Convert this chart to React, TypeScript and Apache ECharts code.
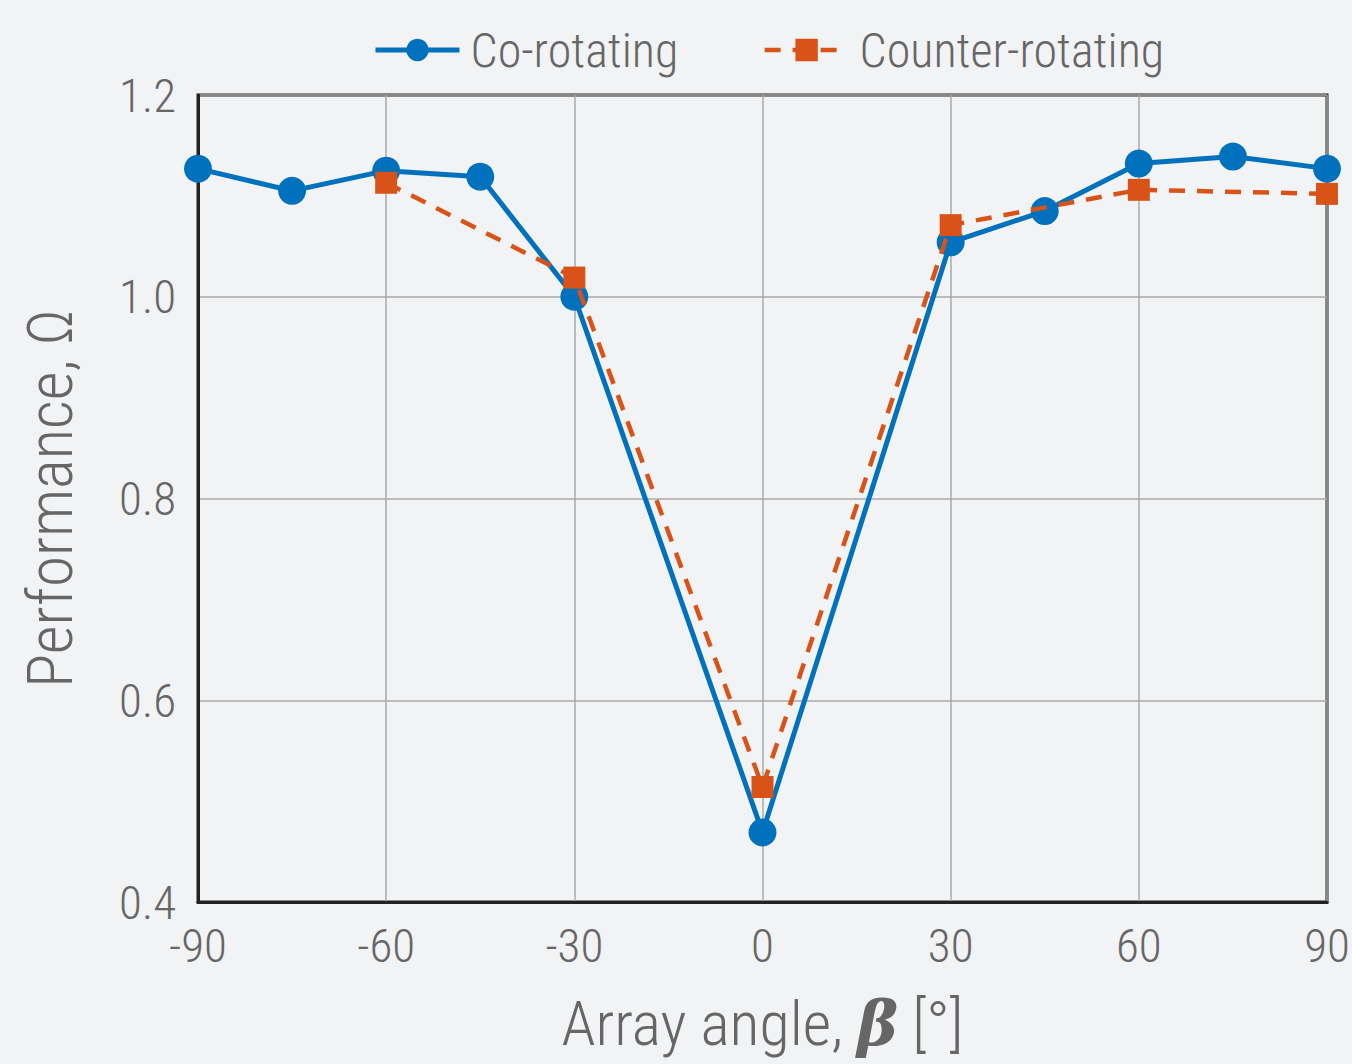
import React, { useEffect, useRef } from "react";
import * as echarts from "echarts";

const coAngles = [-90, -75, -60, -45, -30, 0, 30, 45, 60, 75, 90];
const coValues = [1.127, 1.105, 1.125, 1.119, 1.0, 0.469, 1.054, 1.085, 1.132, 1.139, 1.127];
const counterAngles = [-60, -30, 0, 30, 60, 90];
const counterValues = [1.113, 1.019, 0.514, 1.071, 1.106, 1.102];
const xTicks = [-90, -60, -30, 0, 30, 60, 90];
const yTicks = [0.4, 0.6, 0.8, 1.0, 1.2];

const FONT = "'Roboto Condensed', 'Liberation Sans Narrow', 'DejaVu Sans Condensed', sans-serif";
const TEXT = "#666666";
const BLUE = "#0072BD";
const ORANGE = "#D95319";

export default function App() {
  const ref = useRef<HTMLDivElement>(null);
  useEffect(() => {
    document.body.style.margin = "0";
    document.body.style.background = "#f2f3f5";
    const chart = echarts.init(ref.current!, null, { renderer: "svg" });
    chart.setOption({
      animation: false,
      backgroundColor: "#f2f3f5",
      textStyle: { fontFamily: FONT, fontWeight: 300 },
      legend: {
        top: 21,
        left: 368,
        itemWidth: 84,
        itemHeight: 28,
        itemGap: 84,
        textStyle: { fontSize: 48, color: TEXT, fontFamily: FONT, fontWeight: 300, padding: [0, 0, 0, 6] },
        data: [
          { name: "Co-rotating", lineStyle: { width: 5, color: BLUE }, itemStyle: { color: BLUE } },
          { name: "Counter-rotating", lineStyle: { width: 4.5, color: ORANGE, type: [16, 12] }, itemStyle: { color: ORANGE } },
        ],
      },
      grid: {
        left: 198,
        top: 95,
        right: 25,
        bottom: 162,
        outerBoundsMode: "none",
        containLabel: false,
        show: true,
        borderColor: "#222",
        borderWidth: 3,
        backgroundColor: "transparent",
      },
      xAxis: {
        type: "value",
        min: -90,
        max: 90,
        interval: 30,
        name: "{n|Array angle, }{b|β}{n| [°]}",
        nameLocation: "middle",
        nameGap: 90,
        nameTextStyle: {
          rich: {
            n: { fontSize: 62, color: TEXT, fontFamily: FONT, fontWeight: 300 },
            b: { fontSize: 62, color: TEXT, fontWeight: "bold", fontStyle: "italic", fontFamily: "'DejaVu Serif', serif" },
          },
        },
        axisLine: { show: true, onZero: false, lineStyle: { color: "#222", width: 3 } },
        axisTick: { show: false },
        axisLabel: {
          fontSize: 47,
          color: TEXT,
          margin: 20,
          fontFamily: FONT,
          fontWeight: 300,
          formatter: (v: number) => (xTicks.includes(v) ? String(v) : ""),
        },
        splitLine: { show: true, lineStyle: { color: "#aaaaaa", width: 1.5 } },
      },
      yAxis: {
        type: "value",
        min: 0.4,
        max: 1.2,
        interval: 0.2,
        name: "Performance, Ω",
        nameLocation: "middle",
        nameGap: 116,
        nameRotate: 90,
        nameTextStyle: { fontSize: 63, color: TEXT, fontFamily: FONT, fontWeight: 300 },
        axisLine: { show: true, onZero: false, lineStyle: { color: "#222", width: 3 } },
        axisTick: { show: false },
        axisLabel: {
          fontSize: 47,
          color: TEXT,
          margin: 22,
          fontFamily: FONT,
          fontWeight: 300,
          formatter: (v: number) => {
            const m = yTicks.find((t) => Math.abs(t - v) < 1e-6);
            return m !== undefined ? m.toFixed(1) : "";
          },
        },
        splitLine: { show: true, lineStyle: { color: "#aaaaaa", width: 1.5 } },
      },
      series: [
        {
          name: "Co-rotating",
          type: "line",
          data: coAngles.map((a, i) => [a, coValues[i]]),
          symbol: "circle",
          symbolSize: 28,
          itemStyle: { color: BLUE },
          lineStyle: { color: BLUE, width: 5 },
          z: 3,
        },
        {
          name: "Counter-rotating",
          type: "line",
          data: counterAngles.map((a, i) => [a, counterValues[i]]),
          symbol: "rect",
          symbolSize: 22,
          itemStyle: { color: ORANGE },
          lineStyle: { color: ORANGE, width: 4.5, type: [16, 12] },
          z: 4,
        },
      ],
    });
    return () => chart.dispose();
  }, []);
  return <div ref={ref} style={{ width: 1352, height: 1064 }} />;
}
